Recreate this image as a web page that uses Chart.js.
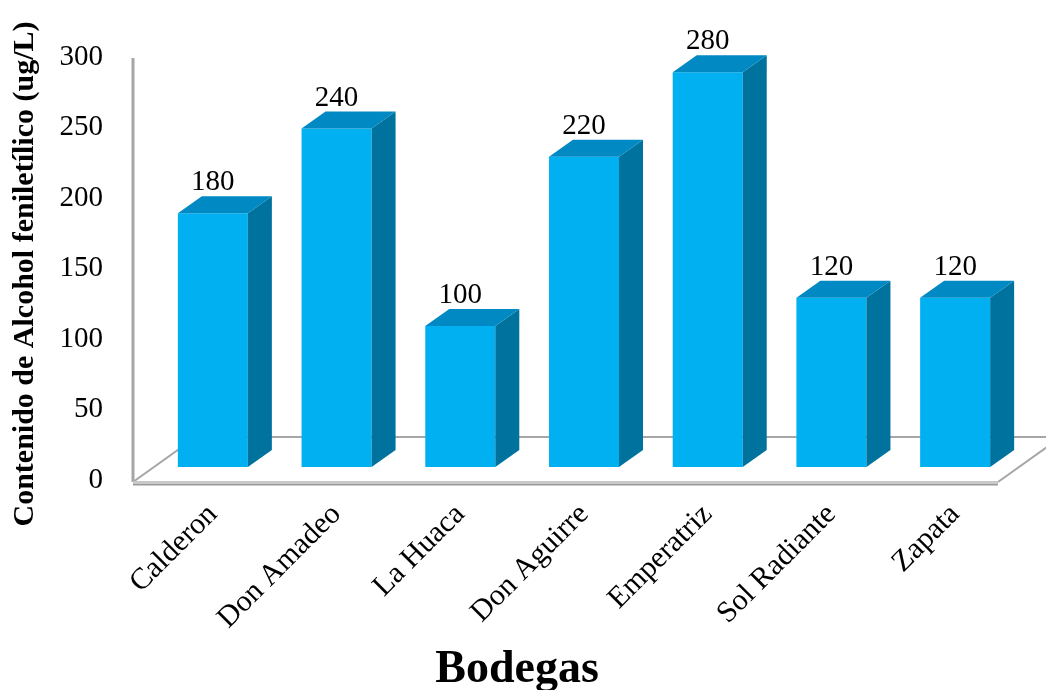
<!DOCTYPE html>
<html>
<head>
<meta charset="utf-8">
<script src="https://cdn.jsdelivr.net/npm/chart.js@4"></script>
<style>
  html, body { margin: 0; padding: 0; background: #fff; }
  #wrap { width: 1046px; height: 690px; }
</style>
</head>
<body>
<div id="wrap"><canvas id="chart1" width="1046" height="690"></canvas></div>
<script>
const bodegas = ["Calderon", "Don Amadeo", "La Huaca", "Don Aguirre", "Emperatriz", "Sol Radiante", "Zapata"];
const contenido = [180, 240, 100, 220, 280, 120, 120];
const yTicks = [0, 50, 100, 150, 200, 250, 300];
const yTitle = "Contenido de Alcohol feniletílico (ug/L)";
const xTitle = "Bodegas";

const serif = '"Liberation Serif", "Times New Roman", serif';

// 3d look: side and top faces, floor and wall lines, labels
const fake3d = {
    id: 'fake3d',
    beforeDatasetsDraw(chart) {
        const ctx = chart.ctx;
        const a = chart.chartArea;
        const fx0 = a.left - 18, fx1 = a.right - 19, fy = a.bottom + 15;
        const ddx = 63, ddy = -45;
        ctx.save();
        ctx.strokeStyle = '#a6a6a6';
        ctx.lineWidth = 2;
        // back floor edge + diagonals
        ctx.beginPath();
        ctx.moveTo(fx0, fy);
        ctx.lineTo(fx0 + ddx, fy + ddy);
        ctx.lineTo(fx1 + ddx, fy + ddy);
        ctx.lineTo(fx1, fy);
        ctx.stroke();
        // wall line
        ctx.lineWidth = 3;
        ctx.beginPath();
        ctx.moveTo(fx0, a.top + 14);
        ctx.lineTo(fx0, fy);
        ctx.stroke();
        // floor front edge (thick)
        ctx.fillStyle = '#c8c8c8';
        ctx.fillRect(fx0, fy - 1, fx1 - fx0, 4);
        ctx.fillStyle = '#9a9a9a';
        ctx.fillRect(fx0, fy + 2, fx1 - fx0, 1.5);
        ctx.restore();
    },
    afterDatasetsDraw(chart) {
        const ctx = chart.ctx;
        const meta = chart.getDatasetMeta(0);
        const dx = 24, dy = -17;
        ctx.save();
        meta.data.forEach((bar, i) => {
            const half = bar.width / 2;
            const l = bar.x - half, r = bar.x + half;
            const top = bar.y, base = bar.base;
            // side
            ctx.fillStyle = '#00729e';
            ctx.beginPath();
            ctx.moveTo(r, top);
            ctx.lineTo(r + dx, top + dy);
            ctx.lineTo(r + dx, base + dy);
            ctx.lineTo(r, base);
            ctx.closePath();
            ctx.fill();
            // top
            ctx.fillStyle = '#0089c2';
            ctx.beginPath();
            ctx.moveTo(l, top);
            ctx.lineTo(l + dx, top + dy);
            ctx.lineTo(r + dx, top + dy);
            ctx.lineTo(r, top);
            ctx.closePath();
            ctx.fill();
            // value label
            ctx.fillStyle = '#000';
            ctx.font = '29px ' + serif;
            ctx.textAlign = 'center';
            ctx.textBaseline = 'alphabetic';
            ctx.fillText(String(contenido[i]), bar.x, top - 23);
        });
        ctx.restore();
    },
    afterDraw(chart) {
        const ctx = chart.ctx;
        ctx.save();
        ctx.fillStyle = '#000';
        ctx.textAlign = 'center';
        ctx.textBaseline = 'middle';
        ctx.font = 'bold 46px ' + serif;
        ctx.fillText(xTitle, 517, 670);
        ctx.translate(25, 274);
        ctx.rotate(-Math.PI / 2);
        ctx.font = 'bold 30px ' + serif;
        ctx.fillText(yTitle, 0, 0);
        ctx.restore();
    }
};

const chart1 = new Chart(document.getElementById('chart1'), {
    type: 'bar',
    data: {
        labels: bodegas,
        datasets: [{
            data: contenido,
            backgroundColor: '#00b0f0',
            borderWidth: 0,
            barPercentage: 0.566,
            categoryPercentage: 1.0
        }]
    },
    options: {
        responsive: false,
        animation: false,
        layout: { padding: { top: 44, right: 29, left: 0, bottom: 0 } },
        plugins: {
            legend: { display: false },
            tooltip: { enabled: false }
        },
        scales: {
            x: {
                grid: { display: false, drawTicks: false },
                border: { display: false },
                ticks: {
                    color: '#000',
                    font: { family: serif, size: 30 },
                    maxRotation: 45,
                    minRotation: 45,
                    autoSkip: false,
                    padding: 30
                },
                afterFit(scale) { scale.height = 223; }
            },
            y: {
                min: 0,
                max: 300,
                grid: { display: false, drawTicks: false },
                border: { display: false },
                afterBuildTicks(scale) { scale.ticks = yTicks.map(v => ({ value: v })); },
                ticks: {
                    color: '#000',
                    font: { family: serif, size: 29 },
                    padding: 48,
                    labelOffset: 13
                },
                afterFit(scale) {
                    scale.width = 151;
                    scale.paddingTop = 0;
                    scale.paddingBottom = 0;
                }
            }
        }
    },
    plugins: [fake3d]
});
</script>
</body>
</html>
